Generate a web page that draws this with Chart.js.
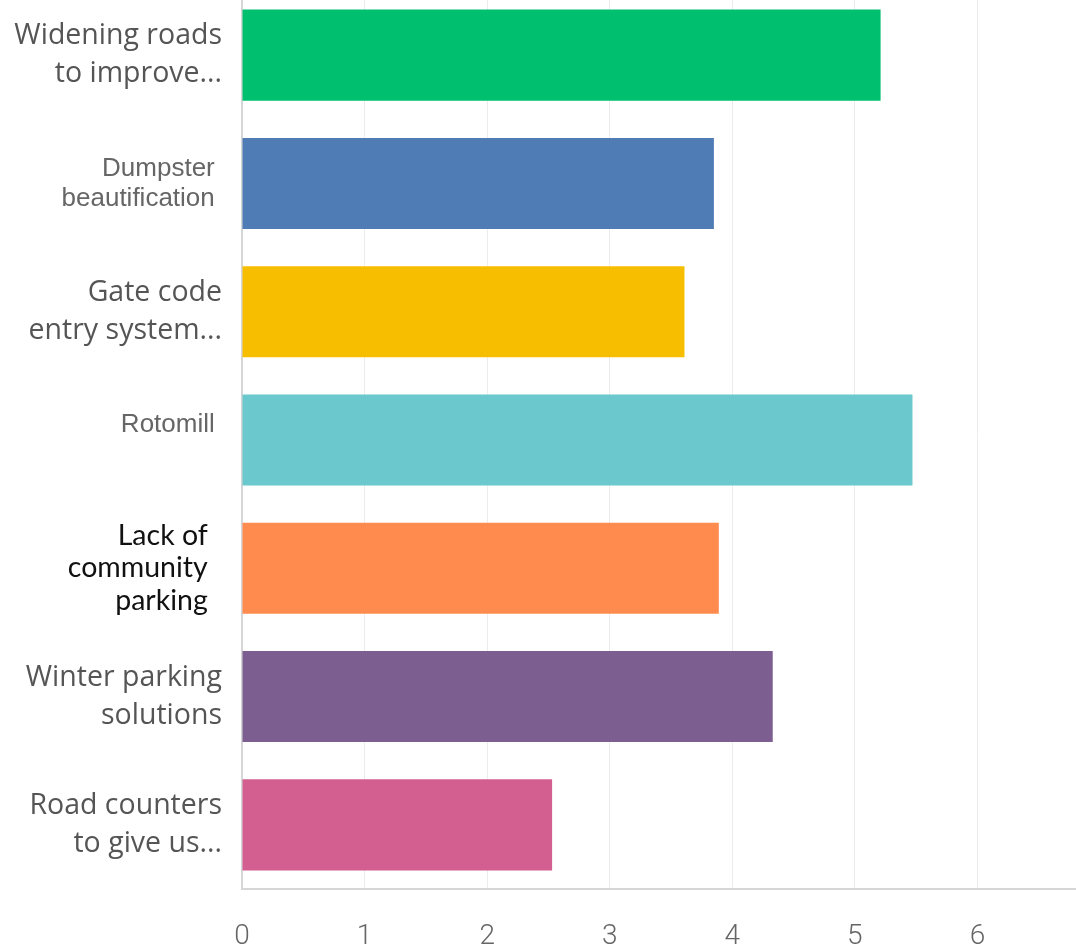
<!DOCTYPE html>
<html>
<head>
<meta charset="utf-8">
<script src="https://cdn.jsdelivr.net/npm/chart.js@4"></script>
<style>
  html, body { margin: 0; padding: 0; background: #ffffff; overflow: hidden; width: 1076px; height: 951px; }
  #wrap { position: absolute; left: 0; top: -20px; width: 1100px; height: 979px; }
</style>
</head>
<body>
<div id="wrap"><canvas id="c" width="1100" height="979"></canvas></div>
<script>
// Answer options (multi-line labels) and their average scores
const categories = [
  ["Widening roads", "to improve..."],
  ["Dumpster ", "beautification "],
  ["Gate code", "entry system..."],
  ["Rotomill ", ""],
  ["Lack of\u2002", "community\u2002", "parking\u2002"],
  ["Winter parking", "solutions"],
  ["Road counters", "to give us..."]
];
const scores = [5.21, 3.85, 3.61, 5.47, 3.89, 4.33, 2.53];
const barColors = ["#00BF6F", "#507CB6", "#F7BE00", "#6BC8CD", "#FF8B4F", "#7D5E90", "#D25F90"];
const xTicks = [0, 1, 2, 3, 4, 5, 6];

// Label styling per row
const surveyFont = { family: "'Open Sans', sans-serif", size: 28.5, lineHeight: 1.32 };
const arialFont = { family: "'Liberation Sans', Arial, sans-serif", size: 26, lineHeight: 1.15 };
const gothicFont = { family: "Lato, sans-serif", size: 28.5, lineHeight: 1.15, weight: 400 };
const labelFonts = [surveyFont, arialFont, surveyFont, arialFont, gothicFont, surveyFont, surveyFont];
const labelColors = ["#555555", "#666666", "#555555", "#666666", "#111111", "#555555", "#555555"];

new Chart(document.getElementById("c"), {
  type: "bar",
  data: {
    labels: categories,
    datasets: [{
      data: scores,
      backgroundColor: barColors,
      borderWidth: 0,
      barPercentage: 0.71,
      categoryPercentage: 1.0
    }]
  },
  options: {
    indexAxis: "y",
    responsive: false,
    animation: false,
    layout: { padding: { top: 11, right: 0, bottom: 0, left: 0 } },
    plugins: { legend: { display: false }, tooltip: { enabled: false } },
    scales: {
      x: {
        min: 0,
        max: 7,
        afterBuildTicks: (scale) => {
          scale.ticks = xTicks.concat([7]).map(v => ({ value: v }));
        },
        afterFit: (scale) => {
          scale.height = 70;
          scale.paddingLeft = 0;
          scale.paddingRight = 0;
        },
        grid: { color: "#ececec", lineWidth: 1, drawTicks: false },
        border: { color: "#d6d6d6", width: 2 },
        ticks: {
          padding: 31,
          color: "#666666",
          font: { family: "Roboto, sans-serif", size: 28, weight: 300 },
          callback: (v) => (xTicks.includes(v) ? String(v) : "")
        }
      },
      y: {
        afterFit: (scale) => {
          scale.width = 242;
          scale.paddingTop = 0;
          scale.paddingBottom = 0;
        },
        grid: { display: false, drawTicks: false },
        border: { color: "#d6d6d6", width: 2 },
        ticks: {
          padding: 20,
          autoSkip: false,
          font: (ctx) => labelFonts[ctx.index],
          color: (ctx) => labelColors[ctx.index]
        }
      }
    }
  }
});
</script>
</body>
</html>
